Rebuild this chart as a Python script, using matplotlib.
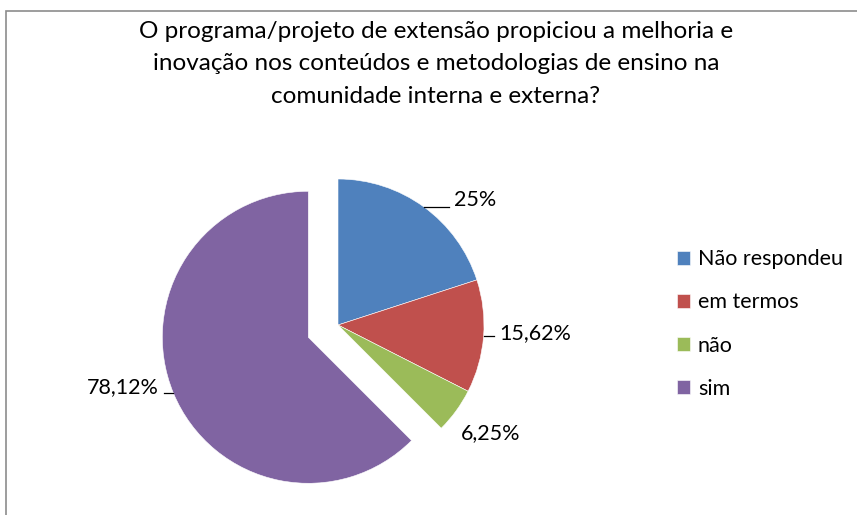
import numpy as np
import matplotlib
matplotlib.use("Agg")
import matplotlib.pyplot as plt
from matplotlib.patches import Rectangle

plt.rcParams['font.family'] = ['Lato', 'DejaVu Sans']

# dados do gráfico
categorias = ['Não respondeu', 'em termos', 'não', 'sim']
valores = [25, 15.62, 6.25, 78.12]
rotulos = ['25%', '15,62%', '6,25%', '78,12%']
cores = ['#4F81BD', '#C0504D', '#9BBB59', '#8064A2']
explodir = [0, 0, 0, 0.22]

titulo = ('O programa/projeto de extensão propiciou a melhoria e\n'
          'inovação nos conteúdos e metodologias de ensino na\n'
          'comunidade interna e externa?')

W, H = 857, 515
fig = plt.figure(figsize=(W / 100, H / 100), dpi=100)

# borda cinza da área do gráfico (cortada à direita e embaixo)
fig.patches.append(Rectangle((5.5 / W, -0.1), 1.2, (H - 10.5) / H + 0.1,
                             transform=fig.transFigure, fill=False,
                             edgecolor='#8c8c8c', linewidth=1.2))

# eixo do pizza: 1 unidade = 146 px, centro em (338, 325)
r_px = 146
cx, cy = 338, H - 325
xl, yl = 1.4, 1.3
ax = fig.add_axes([(cx - xl * r_px) / W, (cy - yl * r_px) / H,
                   2 * xl * r_px / W, 2 * yl * r_px / H])

wedges, _ = ax.pie(valores, colors=cores, startangle=90, counterclock=False,
                   explode=explodir, radius=1,
                   wedgeprops=dict(edgecolor='white', linewidth=0.4))
ax.set_xlim(-xl, xl)
ax.set_ylim(-yl, yl)
ax.axis('off')

# rótulos com linhas de chamada (estilo Excel)
desloc = [(0.21, 0.045, True), (0.11, 0.02, True),
          (0.03, -0.15, False), (-0.1, 0.04, True)]
for w, rot, ex, (dx, dy, linha) in zip(wedges, rotulos, explodir, desloc):
    ang = np.deg2rad((w.theta1 + w.theta2) / 2)
    ox, oy = w.center
    px, py = ox + np.cos(ang), oy + np.sin(ang)
    tx = px + dx
    if linha:
        fim = tx - 0.035 if dx > 0 else tx + 0.035
        ax.plot([px, fim], [py, py], color='black', lw=0.9, clip_on=False)
    ax.text(tx, py + dy, rot, fontsize=15.5, ha='left' if dx > 0 else 'right',
            va='center', clip_on=False)

fig.text(436 / W, 1 - 64 / H, titulo, ha='center', va='center',
         fontsize=17.5, linespacing=1.65)

leg = fig.legend(wedges, categorias, loc='center left',
                 bbox_to_anchor=(658 / W, 1 - 324 / H), frameon=False,
                 fontsize=15.5, handlelength=0.6, handleheight=0.6,
                 handletextpad=0.35, labelspacing=1.07)

fig.savefig('out.png', dpi=100)
